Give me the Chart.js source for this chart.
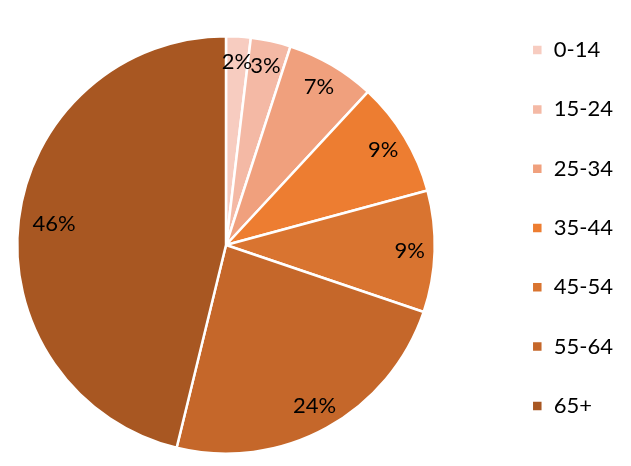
<!DOCTYPE html>
<html>
<head>
<meta charset="utf-8">
<script src="https://cdn.jsdelivr.net/npm/chart.js@4"></script>
<style>
  html, body { margin: 0; padding: 0; background: #fff; }
  #wrap { width: 631px; height: 466px; position: relative; }
</style>
</head>
<body>
<div id="wrap"><canvas id="pie"></canvas></div>
<script>
  // age groups and share (%) (slice angles)
  const ageGroups = ["0-14", "15-24", "25-34", "35-44", "45-54", "55-64", "65+"];
  const shares = [1.9, 3.1, 6.9, 8.9, 9.4, 23.6, 46.2];
  const sliceColors = ["#F7CCC0", "#F4B9A5", "#F0A07D", "#ED7D31", "#D97430", "#C5672A", "#A85722"];

  const FONT = "Lato, 'Open Sans', sans-serif";

  // place the pie where it sits in the original, legend keeps its own box
  const pieArea = {
    id: "pieArea",
    afterLayout(chart) {
      const a = chart.chartArea;
      a.left = 16; a.right = 436; a.top = 35; a.bottom = 455;
      a.width = a.right - a.left; a.height = a.bottom - a.top;
    }
  };

  // percentage labels inside the slices
  const sliceLabels = {
    id: "sliceLabels",
    afterDatasetsDraw(chart) {
      const ctx = chart.ctx;
      const meta = chart.getDatasetMeta(0);
      const total = shares.reduce((s, v) => s + v, 0);
      ctx.save();
      ctx.font = "22px " + FONT;
      ctx.fillStyle = "#000";
      ctx.textAlign = "center";
      ctx.textBaseline = "middle";
      meta.data.forEach((arc, i) => {
        const p = arc.getProps(["x", "y", "startAngle", "endAngle", "outerRadius"], true);
        const mid = (p.startAngle + p.endAngle) / 2;
        const r = p.outerRadius * (i === 6 ? 0.83 : 0.88);
        const pct = Math.round(shares[i] / total * 100) + "%";
        ctx.fillText(pct, p.x + Math.cos(mid) * r, p.y + Math.sin(mid) * r);
      });
      ctx.restore();
    }
  };

  new Chart(document.getElementById("pie"), {
    type: "pie",
    data: {
      labels: ageGroups,
      datasets: [{
        data: shares,
        backgroundColor: sliceColors,
        borderColor: "#fff",
        borderWidth: 2.5
      }]
    },
    options: {
      responsive: true,
      maintainAspectRatio: false,
      animation: false,
      layout: { padding: { top: -10, right: 8, bottom: 0, left: 0 } },
      plugins: {
        legend: {
          position: "right",
          labels: {
            color: "#000",
            font: { family: FONT, size: 22 },
            boxWidth: 11, boxHeight: 11,
            padding: 37.3
          }
        },
        tooltip: { enabled: false }
      }
    },
    plugins: [pieArea, sliceLabels]
  });
</script>
</body>
</html>
